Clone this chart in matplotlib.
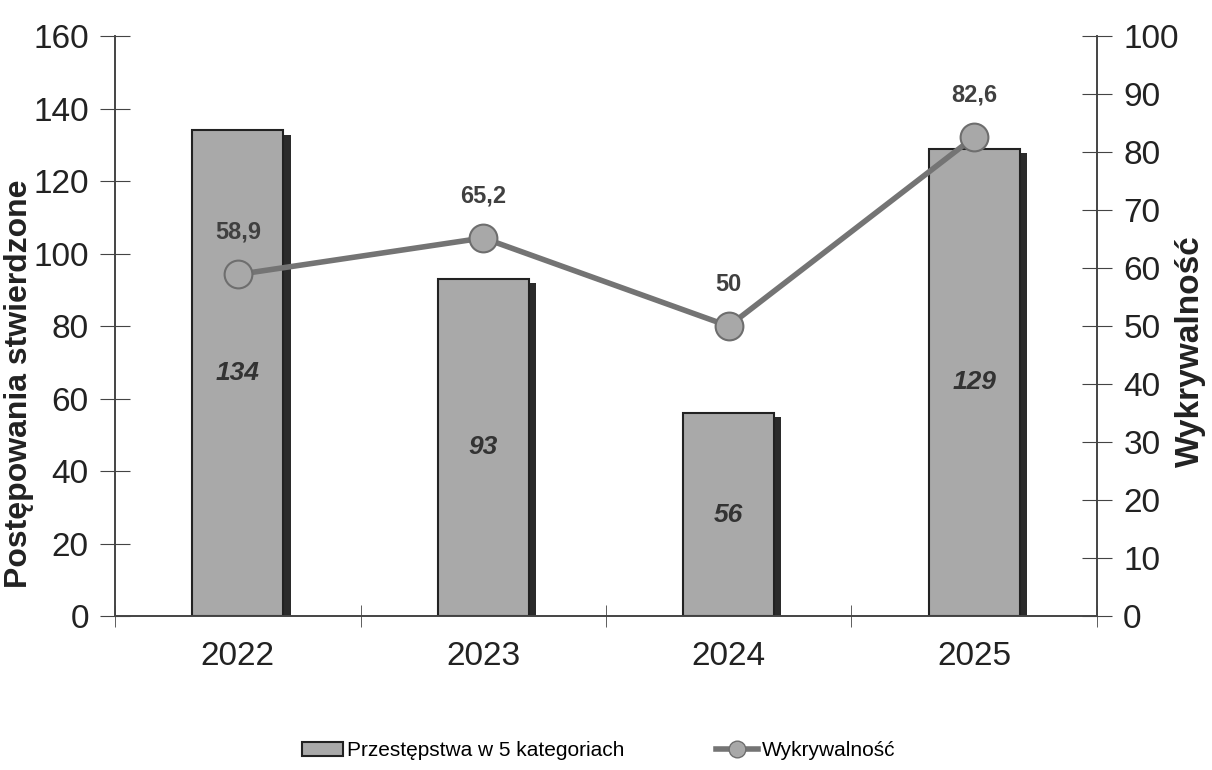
import matplotlib
matplotlib.use("Agg")
import matplotlib.pyplot as plt
from matplotlib.patches import Patch
from matplotlib.lines import Line2D
import numpy as np

plt.rcParams['font.family'] = ['Liberation Sans', 'DejaVu Sans']

years = ["2022", "2023", "2024", "2025"]
cases = [134, 93, 56, 129]
detection = [58.9, 65.2, 50, 82.6]
detection_labels = ["58,9", "65,2", "50", "82,6"]
left_ticks = [0, 20, 40, 60, 80, 100, 120, 140, 160]
right_ticks = [0, 10, 20, 30, 40, 50, 60, 70, 80, 90, 100]

fig = plt.figure(figsize=(12.12, 7.7), dpi=100)
ax = fig.add_axes([0.095, 0.2, 0.81, 0.753])
ax2 = ax.twinx()

x = np.arange(len(years))
w = 0.37
# shadow bars
ax.bar(x + 0.03, cases, width=w, color="#2b2b2b", bottom=-1.2, zorder=1)
ax.bar(x, cases, width=w, color="#a9a9a9", edgecolor="#222222", linewidth=1.5, zorder=2)
for xi, v in zip(x, cases):
    ax.text(xi, v / 2, str(v), ha="center", va="center", fontsize=19, fontweight="bold",
            fontstyle="italic", color="#333333", zorder=5)

ax.set_xlim(-0.5, 3.5)
ax.set_ylim(0, 160)
ax.set_yticks(left_ticks)
ax.set_xticks(x)
ax.set_xticklabels(years)
ax.set_xticks(np.arange(-0.5, 3.6, 1), minor=True)
ax.tick_params(axis="x", which="major", length=0, pad=18, labelsize=24, colors="#222222")
ax.tick_params(axis="x", which="minor", length=16, direction="inout", color="#444444")
ax.tick_params(axis="y", length=22, direction="inout", labelsize=24, pad=8, colors="#222222", color="#444444")
ax.set_ylabel("Postępowania stwierdzone", fontsize=23, fontweight="bold", color="#222222", va="center")
ax.yaxis.set_label_coords(-0.098, 0.40)

ax2.plot(x, detection, color="#747474", linewidth=4, zorder=3, solid_capstyle="round")
ax2.plot(x, detection, linestyle="none", marker="o", markersize=20, markerfacecolor="#a8a8a8",
         markeredgecolor="#6e6e6e", markeredgewidth=1.5, zorder=4)
for xi, v, lab in zip(x, detection, detection_labels):
    ax2.annotate(lab, (xi, v), xytext=(0, 22), textcoords="offset points", ha="center", va="bottom",
                 fontsize=17, fontweight="bold", color="#404040")
ax2.set_ylim(0, 100)
ax2.set_yticks(right_ticks)
ax2.tick_params(axis="y", length=22, direction="inout", labelsize=24, pad=8, colors="#222222", color="#444444")
ax2.set_ylabel("Wykrywalność", fontsize=24, fontweight="bold", color="#222222", va="center")
ax2.yaxis.set_label_coords(1.095, 0.456)

for a in (ax, ax2):
    a.spines["top"].set_visible(False)
    for s in ("left", "right", "bottom"):
        a.spines[s].set_color("#444444")
        a.spines[s].set_linewidth(1.2)
ax.patch.set_visible(False)

handles = [Patch(facecolor="#a9a9a9", edgecolor="#222222", linewidth=1.5),
           Line2D([], [], color="#747474", linewidth=4, marker="o", markersize=12,
                  markerfacecolor="#a8a8a8", markeredgecolor="#6e6e6e")]
fig.legend(handles, ["Przestępstwa w 5 kategoriach", "Wykrywalność"], loc="center",
           bbox_to_anchor=(0.494, 0.025), ncol=2, frameon=False, fontsize=15,
           columnspacing=4.4, handlelength=2.0, handletextpad=0.2)

fig.savefig("out.png", dpi=100)
